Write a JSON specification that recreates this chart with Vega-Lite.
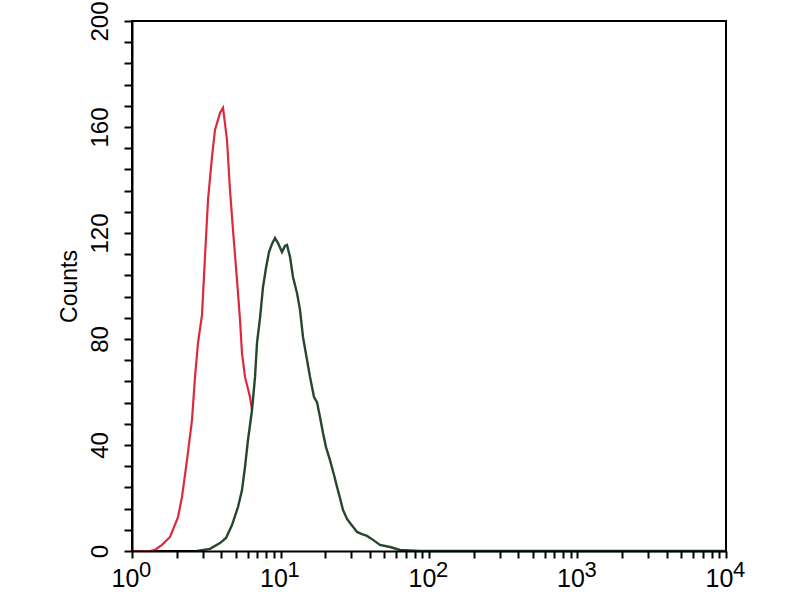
{
  "$schema": "https://vega.github.io/schema/vega-lite/v6.json",
  "autosize": "none",
  "width": 594,
  "height": 530,
  "padding": {"left": 132, "top": 21, "right": 74, "bottom": 49},
  "background": "white",
  "config": {
    "view": {"stroke": "black", "strokeWidth": 2},
    "font": "Liberation Sans"
  },
  "datasets": {
    "red": [
      {"x": 1.0, "c": 0}, {"x": 1.322, "c": 0}, {"x": 1.428, "c": 0.4}, {"x": 1.592, "c": 2.3},
      {"x": 1.803, "c": 5.3}, {"x": 2.041, "c": 12.8}, {"x": 2.171, "c": 20.4}, {"x": 2.346, "c": 34.3},
      {"x": 2.535, "c": 49.4}, {"x": 2.657, "c": 65.7}, {"x": 2.783, "c": 78.5}, {"x": 2.961, "c": 89.1},
      {"x": 3.101, "c": 111}, {"x": 3.25, "c": 132.5}, {"x": 3.457, "c": 148.7}, {"x": 3.622, "c": 158.9},
      {"x": 3.913, "c": 165.3}, {"x": 4.101, "c": 167.2}, {"x": 4.363, "c": 155.1}, {"x": 4.57, "c": 136.2},
      {"x": 4.788, "c": 121.1}, {"x": 5.094, "c": 102.3}, {"x": 5.337, "c": 87.2}, {"x": 5.505, "c": 74.7},
      {"x": 5.767, "c": 65.7}, {"x": 6.232, "c": 58.1}, {"x": 6.529, "c": 50.6}, {"x": 7.056, "c": 34.3},
      {"x": 7.864, "c": 19.2}, {"x": 9.184, "c": 6.0}, {"x": 11.59, "c": 0.4}, {"x": 15.8, "c": 0},
      {"x": 10000, "c": 0}
    ],
    "green": [
      {"x": 2.74, "c": 0}, {"x": 3.352, "c": 0.8}, {"x": 3.913, "c": 3.0}, {"x": 4.296, "c": 4.9},
      {"x": 4.714, "c": 9.8}, {"x": 5.174, "c": 16.6}, {"x": 5.505, "c": 23.0}, {"x": 5.767, "c": 31.7},
      {"x": 6.041, "c": 41.9}, {"x": 6.431, "c": 53.2}, {"x": 6.736, "c": 65.7}, {"x": 6.948, "c": 78.5},
      {"x": 7.278, "c": 87.9}, {"x": 7.624, "c": 99.6}, {"x": 7.986, "c": 106.8}, {"x": 8.366, "c": 112.8},
      {"x": 8.766, "c": 115.9}, {"x": 9.184, "c": 118.1}, {"x": 9.62, "c": 116.2}, {"x": 10.23, "c": 112.8},
      {"x": 10.72, "c": 115.1}, {"x": 11.06, "c": 115.5}, {"x": 11.59, "c": 111}, {"x": 12.14, "c": 103.4},
      {"x": 12.91, "c": 97.4}, {"x": 13.53, "c": 91.0}, {"x": 14.17, "c": 80.8}, {"x": 15.09, "c": 72.1},
      {"x": 15.8, "c": 65.7}, {"x": 16.81, "c": 58.1}, {"x": 17.61, "c": 56.2}, {"x": 18.45, "c": 50.6},
      {"x": 19.33, "c": 44.5}, {"x": 20.25, "c": 39.2}, {"x": 21.54, "c": 34.3}, {"x": 22.93, "c": 28.7},
      {"x": 24.02, "c": 24.2}, {"x": 25.16, "c": 20.0}, {"x": 26.36, "c": 15.5}, {"x": 28.05, "c": 12.1},
      {"x": 29.38, "c": 10.6}, {"x": 31.26, "c": 8.7}, {"x": 32.75, "c": 7.2}, {"x": 35.38, "c": 6.4},
      {"x": 38.24, "c": 5.7}, {"x": 41.97, "c": 4.2}, {"x": 46.77, "c": 2.3}, {"x": 54.63, "c": 1.5},
      {"x": 63.77, "c": 0.4}, {"x": 86.99, "c": 0}, {"x": 10000, "c": 0}
    ],
    "exps": [
      {"v": 1, "e": "0"}, {"v": 10, "e": "1"}, {"v": 100, "e": "2"}, {"v": 1000, "e": "3"}, {"v": 10000, "e": "4"}
    ]
  },
  "layer": [
    {
      "data": {"name": "red"},
      "mark": {"type": "line", "color": "#dc2a3c", "strokeWidth": 2.2, "interpolate": "linear"},
      "encoding": {
        "x": {
          "field": "x", "type": "quantitative",
          "scale": {"type": "log", "domain": [1, 10000], "nice": false},
          "axis": {
            "title": null,
            "values": [1,2,3,4,5,6,7,8,9,10,20,30,40,50,60,70,80,90,100,200,300,400,500,600,700,800,900,1000,2000,3000,4000,5000,6000,7000,8000,9000,10000],
            "tickCount": 200,
            "labelExpr": "indexof([1,10,100,1000,10000], datum.value) >= 0 ? '10' : ''",
            "labelOverlap": false,
            "labelFlush": false,
            "labelFontSize": {"condition": {"test": "indexof([1,10,100,1000,10000], datum.value) >= 0", "value": 25}, "value": 1},
            "labelOffset": -7,
            "labelColor": "black",
            "labelPadding": 8,
            "tickSize": 7,
            "tickWidth": 2,
            "tickColor": "black",
            "domainColor": "black",
            "domainWidth": 2,
            "grid": false,
            "zindex": 1
          }
        },
        "y": {
          "field": "c", "type": "quantitative",
          "scale": {"domain": [0, 200], "nice": false},
          "axis": {
            "title": "Counts",
            "titleFontSize": 23,
            "titleFontWeight": "normal",
            "titleColor": "black",
            "titlePadding": 7,
            "values": [0,8,16,24,32,40,48,56,64,72,80,88,96,104,112,120,128,136,144,152,160,168,176,184,192,200],
            "tickCount": 200,
            "labelExpr": "datum.value % 40 == 0 ? datum.label : ''",
            "labelOverlap": false,
            "labelFlush": false,
            "labelAngle": 270,
            "labelAlign": "center",
            "labelBaseline": "bottom",
            "labelFontSize": {"condition": {"test": "datum.value % 40 == 0", "value": 24}, "value": 1},
            "labelColor": "black",
            "labelPadding": 12,
            "tickSize": 8,
            "tickWidth": 2,
            "tickColor": "black",
            "domainColor": "black",
            "domainWidth": 2,
            "grid": false,
            "zindex": 1
          }
        }
      }
    },
    {
      "data": {"name": "green"},
      "mark": {"type": "area", "color": "white", "fillOpacity": 1, "line": {"color": "#25472d", "strokeWidth": 2.4}},
      "encoding": {
        "x": {"field": "x", "type": "quantitative"},
        "y": {"field": "c", "type": "quantitative"}
      }
    },
    {
      "data": {"name": "exps"},
      "mark": {"type": "text", "align": "left", "baseline": "top", "dx": 7, "dy": 9, "fontSize": 22, "font": "Liberation Sans", "color": "black", "clip": false},
      "encoding": {
        "x": {"field": "v", "type": "quantitative"},
        "y": {"datum": 0},
        "text": {"field": "e"}
      }
    }
  ]
}
